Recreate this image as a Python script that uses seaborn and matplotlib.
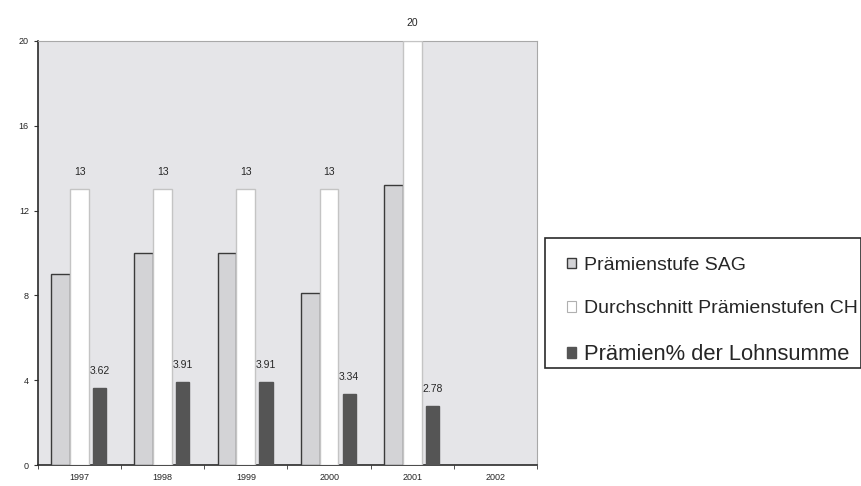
import pandas as pd
import numpy as np
import seaborn as sns
import matplotlib.pyplot as plt
from matplotlib.patches import Patch, Rectangle

# Daten
jahre = ["1997", "1998", "1999", "2000", "2001", "2002"]
sag = [9.0, 10.0, 10.0, 8.1, 13.2, np.nan]
ch = [13, 13, 13, 13, 20, np.nan]
lohn = [3.62, 3.91, 3.91, 3.34, 2.78, np.nan]

serien = ["Prämienstufe SAG", "Durchschnitt Prämienstufen CH", "Prämien% der Lohnsumme"]
ch_labels = ["13", "13", "13", "13", "20"]
lohn_labels = ["3.62", "3.91", "3.91", "3.34", "2.78"]

df = pd.DataFrame({
    "jahr": jahre * 3,
    "serie": [serien[0]] * 6 + [serien[1]] * 6 + [serien[2]] * 6,
    "wert": sag + ch + lohn,
})
df = df.dropna()  # 2002 hat keine Werte

farben = {serien[0]: "#d3d3d6", serien[1]: "#ffffff", serien[2]: "#555555"}
kanten = {serien[0]: "#3a3a3a", serien[1]: "#c4c4c4", serien[2]: "#555555"}

sns.set_style("white")
plt.rcParams["font.family"] = ["Liberation Sans", "DejaVu Sans"]

fig = plt.figure(figsize=(8.62, 4.86), dpi=100)
ax = fig.add_axes([0.044, 0.043, 0.579, 0.873])

sns.barplot(data=df, x="jahr", y="wert", hue="serie", order=jahre, hue_order=serien,
            palette=farben, width=0.68, legend=False, ax=ax, saturation=1)

# Rahmen und Breite der Balken anpassen
for cont, s in zip(ax.containers, serien):
    for p in cont:
        p.set_edgecolor(kanten[s])
        p.set_linewidth(1.0)
        p.set_zorder(3)
        if s == serien[2]:
            mitte = p.get_x() + p.get_width() / 2 + 0.015
            p.set_width(0.16)
            p.set_x(mitte - 0.08)

ax.bar_label(ax.containers[1], labels=ch_labels, padding=9, fontsize=7.5)
ax.bar_label(ax.containers[2], labels=lohn_labels, padding=9, fontsize=7.5)
for t in ax.texts:
    t.set_clip_on(False)

ax.set_facecolor("#e5e5e8")
ax.set_ylim(0, 20)
ax.set_xlim(-0.5, 5.5)
ax.set_yticks([0, 4, 8, 12, 16, 20])
ax.set_xticks(np.arange(-0.5, 6.0, 1.0), minor=True)
ax.tick_params(axis="x", which="major", length=0, labelsize=6.5, pad=6)
ax.tick_params(axis="x", which="minor", length=3, direction="out", color="#333333", bottom=True)
ax.tick_params(axis="y", length=3, direction="out", labelsize=6.5, color="#333333", left=True)
ax.set_xlabel("")
ax.set_ylabel("")

for side in ["left", "bottom"]:
    ax.spines[side].set_color("#2a2a2a")
    ax.spines[side].set_linewidth(1.2)
for side in ["top", "right"]:
    ax.spines[side].set_color("#a8a8a8")
    ax.spines[side].set_linewidth(0.8)

# Legende mit eigenem Rahmen
griffe = [Patch(facecolor=farben[s], edgecolor=kanten[s], linewidth=1.0) for s in serien]
griffe[1] = Patch(facecolor="#ffffff", edgecolor="#b0b0b0", linewidth=0.8)
leg = fig.legend(griffe, serien, loc="upper left", bbox_to_anchor=(0.658, 0.471),
                 frameon=False, fontsize=14, handlelength=0.45,
                 handleheight=0.45, handletextpad=0.4, labelspacing=1.35,
                 borderpad=0, borderaxespad=0)
leg.get_texts()[2].set_fontsize(15.8)
fig.patches.append(Rectangle((545 / 862, 118 / 486), 316 / 862, 130 / 486,
                             transform=fig.transFigure, fill=False,
                             edgecolor="#2a2a2a", linewidth=1.2))

fig.savefig("out.png", dpi=100)
